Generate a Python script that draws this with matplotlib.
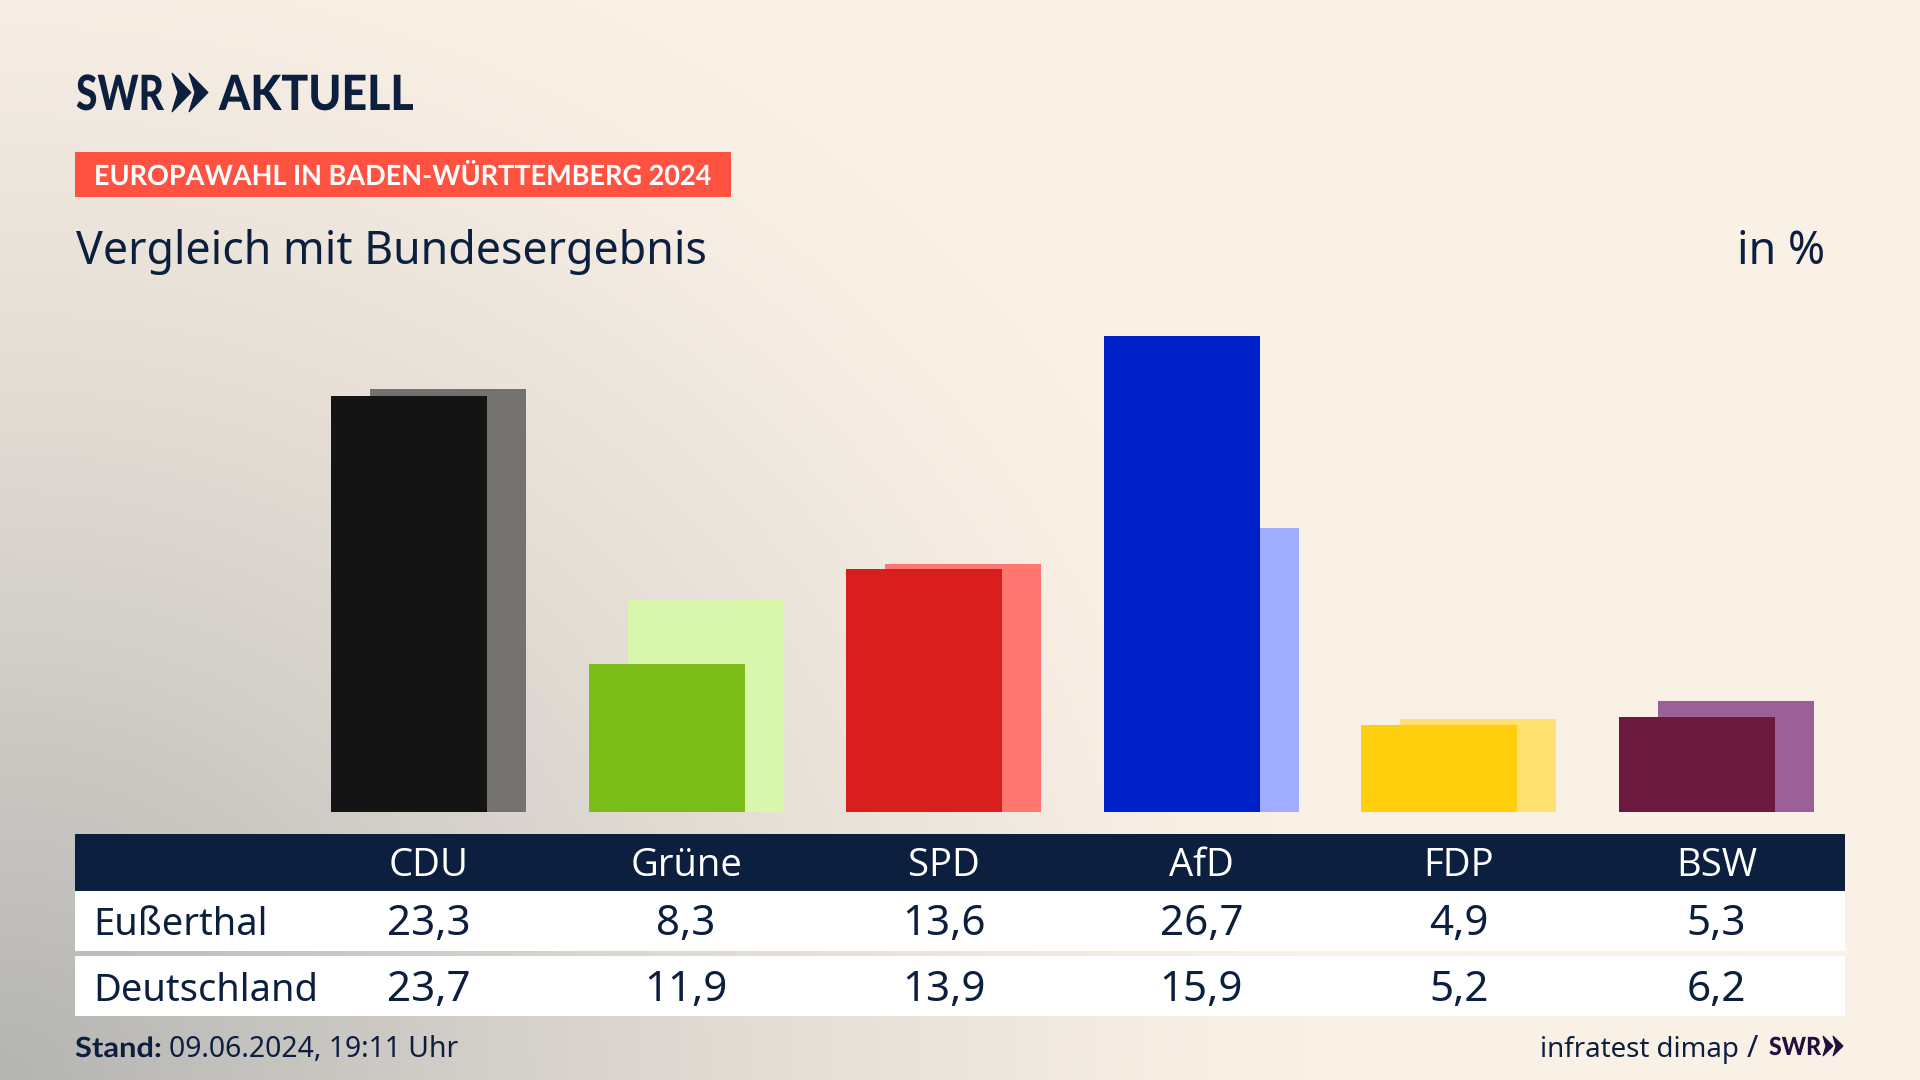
"""SWR Aktuell - Europawahl comparison chart, redrawn with matplotlib."""

import matplotlib
matplotlib.use("Agg")
import matplotlib.pyplot as plt
import numpy as np
from matplotlib.patches import Polygon, Rectangle
from matplotlib.patheffects import AbstractPathEffect
from matplotlib.transforms import Affine2D

# ── Data ──────────────────────────────────────────────────────────────────────

PARTIES = ["CDU", "Grüne", "SPD", "AfD", "FDP", "BSW"]
LOCAL_VALUES = [23.3, 8.3, 13.6, 26.7, 4.9, 5.3]
NATIONAL_VALUES = [23.7, 11.9, 13.9, 15.9, 5.2, 6.2]
LOCAL_NAME = "Eußerthal"
NATIONAL_NAME = "Deutschland"

LOCAL_COLORS = ["#141414", "#7ABD19", "#D81F1E", "#0020C8", "#FFCE0C", "#6B1A3E"]
NATIONAL_COLORS = ["#73726F", "#D9F6AD", "#FF7570", "#9FACFF", "#FFE070", "#9B6098"]

# ── Layout (pixels, 1920x1080) ────────────────────────────────────────────────

W, H = 1920, 1080
NAVY = "#0C1F3F"
PURPLE = "#230F3E"
CREAM = np.array([250, 241, 230]) / 255
GREY = np.array([180, 180, 178]) / 255

TEXT_FONT = "Noto Sans"
HEAD_FONT = "Open Sans"

fig = plt.figure(figsize=(W / 100, H / 100), dpi=100)
renderer = fig.canvas.get_renderer()

# canvas axes in pixel coordinates, for background and table
canvas = fig.add_axes([0, 0, 1, 1], zorder=0)
canvas.set_xlim(0, W)
canvas.set_ylim(H, 0)
canvas.axis("off")

# soft grey corner glow, bottom left
yy, xx = np.mgrid[0:H:4, 0:W:4]
dist = np.sqrt((xx / 1300.0) ** 2 + ((H - yy) / 1200.0) ** 2)
glow = np.clip(1 - dist, 0, 1) ** 1.25
bg = CREAM[None, None, :] * (1 - glow[..., None]) + GREY[None, None, :] * glow[..., None]
canvas.imshow(bg, extent=[0, W, H, 0], aspect="auto", interpolation="bilinear", zorder=0)


class Squeeze(AbstractPathEffect):
    """Narrow a text horizontally, the fonts here are wider than the original."""

    def __init__(self, x0, sx):
        self.x0 = x0
        self.sx = sx

    def draw_path(self, renderer, gc, tpath, affine, rgbFace=None):
        squeeze = Affine2D().translate(-self.x0, 0).scale(self.sx, 1).translate(self.x0, 0)
        renderer.draw_path(gc, tpath, affine + squeeze, rgbFace)


def chevrons(x, top, bot, color, w=19, gap=17, t=13):
    """Two logo arrows, side by side."""
    mid = (top + bot) / 2
    for x0 in (x, x + gap):
        canvas.add_patch(Polygon(
            [(x0, top), (x0 + w, mid), (x0, bot), (x0 + w - t, mid)],
            closed=True, facecolor=color, edgecolor=color, linewidth=0.8, zorder=3,
        ))


def label(x, y, s, size, color=NAVY, ha="left", weight="normal", family=TEXT_FONT, fit=None):
    txt = canvas.text(x, y, s, fontsize=size, color=color, ha=ha, va="baseline",
                      fontweight=weight, family=family, zorder=4)
    if fit is not None:
        box = txt.get_window_extent(renderer)
        txt.set_path_effects([Squeeze(box.x0, fit / box.width)])
    return txt


# ── Header ────────────────────────────────────────────────────────────────────

label(76, 110, "SWR", 35, weight="black", family="Lato", fit=88)
chevrons(172, 73, 112, NAVY)
label(219, 110, "AKTUELL", 35, weight="black", family="Lato", fit=195)

canvas.add_patch(Rectangle((75, 152), 656, 45, facecolor="#FF5240", zorder=2))
label(94, 185, "EUROPAWAHL IN BADEN-WÜRTTEMBERG 2024", 20, color="white",
      weight="bold", family="Lato", fit=617)

label(76, 264, "Vergleich mit Bundesergebnis", 32.2)
label(1825, 264, "in %", 32.2, ha="right")

# ── Bars ──────────────────────────────────────────────────────────────────────

AX_LEFT, AX_RIGHT, AX_TOP, AX_BOTTOM = 75, 1845, 320, 812
PX_PER_UNIT = 17.84
STEP = 257.6
CENTER0 = 428.5

ax = fig.add_axes([AX_LEFT / W, 1 - AX_BOTTOM / H,
                   (AX_RIGHT - AX_LEFT) / W, (AX_BOTTOM - AX_TOP) / H], zorder=1)
ax.patch.set_alpha(0)
ax.set_xlim((AX_LEFT - CENTER0) / STEP, (AX_RIGHT - CENTER0) / STEP)
ax.set_ylim(0, (AX_BOTTOM - AX_TOP) / PX_PER_UNIT)
ax.axis("off")

x = np.arange(len(PARTIES))
bar_w = 156 / STEP
shift = 19.5 / STEP
ax.bar(x + shift, NATIONAL_VALUES, width=bar_w, color=NATIONAL_COLORS, linewidth=0, zorder=1)
ax.bar(x - shift, LOCAL_VALUES, width=bar_w, color=LOCAL_COLORS, linewidth=0, zorder=2)

# ── Table ─────────────────────────────────────────────────────────────────────

canvas.add_patch(Rectangle((75, 834), 1770, 57, facecolor=NAVY, zorder=2))
canvas.add_patch(Rectangle((75, 891), 1770, 60, facecolor="white", zorder=2))
canvas.add_patch(Rectangle((75, 956), 1770, 60, facecolor="white", zorder=2))

label(93, 935, LOCAL_NAME, 27.4)
label(93, 1001, NATIONAL_NAME, 27.4)


def fmt(v):
    return f"{v:.1f}".replace(".", ",")


for i, party in enumerate(PARTIES):
    cx = CENTER0 + STEP * i
    label(cx, 876, party, 27.5, color="white", ha="center", family=HEAD_FONT)
    label(cx, 935, fmt(LOCAL_VALUES[i]), 30.3, ha="center")
    label(cx, 1001, fmt(NATIONAL_VALUES[i]), 30.3, ha="center")

# ── Footer ────────────────────────────────────────────────────────────────────

label(75, 1057, "Stand:", 20, weight="bold", family="Lato", fit=87)
label(169, 1057, "09.06.2024, 19:11 Uhr", 20.4)
label(1739, 1057, "infratest dimap", 19.9, ha="right")
label(1758, 1057, "/", 22, ha="right")
label(1769, 1055, "SWR", 18, color=PURPLE, weight="black", family="Lato", fit=52)
chevrons(1823, 1036, 1056, PURPLE, w=10, gap=10, t=7)

fig.savefig("out.png", dpi=100, facecolor="white")
